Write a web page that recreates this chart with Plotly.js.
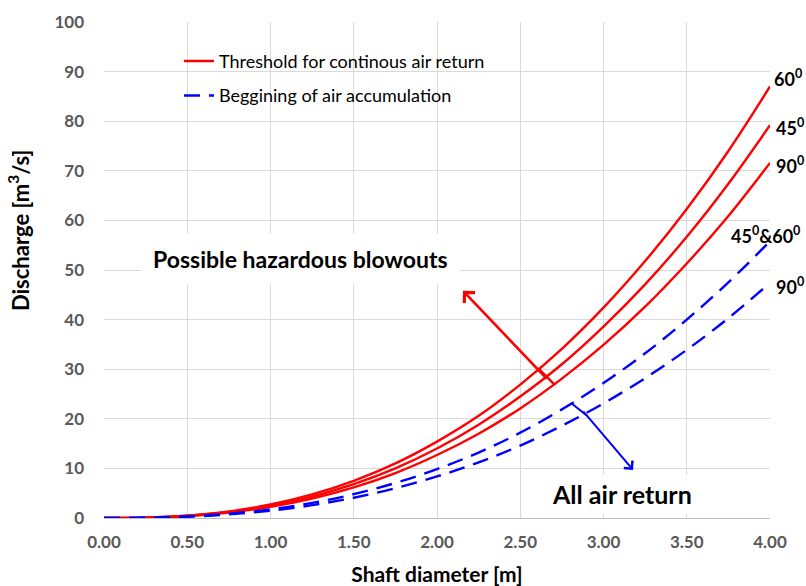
<!DOCTYPE html>
<html><head><meta charset="utf-8">
<script src="https://cdn.plot.ly/plotly-3.0.1.min.js"></script>
<style>html,body{margin:0;padding:0;background:#fff}#chart{width:806px;height:586px}</style>
</head><body><div id="chart"></div>
<script>
const diameter = [0,0.25,0.5,0.75,1.0,1.25,1.5,1.75,2.0,2.25,2.5,2.75,3.0,3.25,3.5,3.75,4.0];
const thr60 = [0,0.08,0.48,1.32,2.72,4.75,7.49,11.0,15.4,20.6,26.9,34.1,42.4,51.8,62.3,74.0,87.0];
const thr45 = [0,0.08,0.44,1.21,2.48,4.32,6.82,10.0,14.0,18.8,24.5,31.0,38.6,47.1,56.7,67.4,79.2];
const thr90 = [0,0.07,0.40,1.09,2.24,3.91,6.16,9.06,12.7,17.0,22.1,28.1,34.9,42.6,51.3,60.9,71.6];
const acc4560 = [0,0.05,0.31,0.85,1.74,3.05,4.80,7.06,9.86,13.2,17.2,21.9,27.2,33.2,40.0,47.5,55.8];
const acc90 = [0,0.05,0.26,0.72,1.48,2.59,4.08,6.00,8.38,11.2,14.6,18.6,23.1,28.2,33.9,40.3,47.4];
const xTicks = [0,0.5,1,1.5,2,2.5,3,3.5,4];
const yTicks = [0,10,20,30,40,50,60,70,80,90,100];

const FONT = 'Lato, "Open Sans", sans-serif';
const red = {color:'#ff0000', width:2.4, shape:'spline'};
const blue = {color:'#0000ff', width:2.4, dash:'16px,9px', shape:'spline'};

const traces = [
  {x:diameter, y:thr60, mode:'lines', line:red, name:'Threshold for continous air return', legendgroup:'a'},
  {x:diameter, y:thr45, mode:'lines', line:red, showlegend:false},
  {x:diameter, y:thr90, mode:'lines', line:red, showlegend:false},
  {x:diameter, y:acc4560, mode:'lines', line:blue, name:'Beggining of air accumulation', legendgroup:'b'},
  {x:diameter, y:acc90, mode:'lines', line:blue, showlegend:false}
];

const lab = (x,y,t,xa)=>({x:x,y:y,xref:'paper',yref:'y',text:t,showarrow:false,xanchor:xa||'left',
  font:{family:FONT,size:18,color:'#000',weight:'bold'}});

const layout = {
  width:806, height:586,
  margin:{l:104, r:36, t:22, b:68},
  paper_bgcolor:'#fff', plot_bgcolor:'#fff',
  font:{family:FONT},
  showlegend:true,
  legend:{x:0.1126, y:0.958, xanchor:'left', yanchor:'top', bgcolor:'rgba(0,0,0,0)',
    font:{family:FONT, size:18, color:'#000'}, tracegroupgap:8},
  xaxis:{range:[0,4], tickvals:xTicks, tickformat:'.2f', showgrid:true, gridcolor:'#d9d9d9', gridwidth:1,
    zeroline:false, showline:true, linecolor:'#bfbfbf', linewidth:1, ticks:'', ticklabelstandoff:9,
    tickfont:{family:FONT, size:17, color:'#595959', weight:'bold'},
    title:{text:'Shaft diameter [m]', font:{family:FONT, size:21, color:'#000', weight:'bold'}, standoff:18}},
  yaxis:{range:[0,100], tickvals:yTicks, showgrid:true, gridcolor:'#d9d9d9', gridwidth:1,
    zeroline:false, showline:false, ticks:'', ticklabelstandoff:19,
    tickfont:{family:FONT, size:17, color:'#595959', weight:'bold'}},
  annotations:[
    {x:-0.152, y:0.581, xref:'paper', yref:'paper', text:'Discharge [m<sup>3</sup>/s]', textangle:-90,
      showarrow:false, font:{family:FONT, size:22, color:'#000', weight:'bold'}},
    {x:1.18, y:52.3, xref:'x', yref:'y', text:'Possible hazardous blowouts', showarrow:false,
      bgcolor:'#fff', borderpad:11, font:{family:FONT, size:23, color:'#000', weight:'bold'}},
    {x:3.11, y:4.8, xref:'x', yref:'y', text:'All air return', showarrow:false,
      bgcolor:'#fff', borderpad:4, font:{family:FONT, size:25, color:'#000', weight:'bold'}},
    {x:2.156, y:45.8, xref:'x', yref:'y', ax:2.667, ay:27.8, axref:'x', ayref:'y', text:'',
      showarrow:true, arrowhead:4, arrowsize:1.1, arrowwidth:2.6, arrowcolor:'#ff0000'},
    {x:3.177, y:9.7, xref:'x', yref:'y', ax:2.871, ay:21.8, axref:'x', ayref:'y', text:'',
      showarrow:true, arrowhead:4, arrowsize:1.1, arrowwidth:2, arrowcolor:'#0000ff'},
    lab(1.003, 88.7, '60<sup>0</sup>'),
    lab(1.006, 78.8, '45<sup>0</sup>'),
    lab(1.006, 71.2, '90<sup>0</sup>'),
    lab(1.048, 57.0, '45<sup>0</sup>&60<sup>0</sup>', 'right'),
    lab(1.006, 46.8, '90<sup>0</sup>')
  ],
  shapes:[
    {type:'line', xref:'x', yref:'y', x0:2.607, y0:30.2, x1:2.709, y1:26.8, line:{color:'#ff0000', width:2.4}},
    {type:'line', xref:'x', yref:'y', x0:2.805, y0:23.2, x1:2.901, y1:20.6, line:{color:'#0000ff', width:2}}
  ]
};
Plotly.newPlot('chart', traces, layout, {displayModeBar:false, staticPlot:true});
</script></body></html>
